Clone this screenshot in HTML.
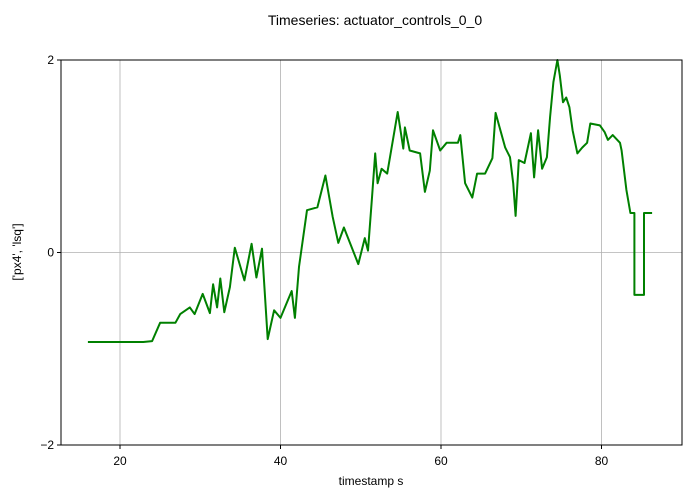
<!DOCTYPE html>
<html><head><meta charset="utf-8"><style>
body{margin:0;background:#fff;}
svg text{font-family:"Liberation Sans","DejaVu Sans",sans-serif;fill:#000;}
</style></head><body>
<svg width="689" height="498">
<text x="375" y="25" font-size="14" text-anchor="middle">Timeseries: actuator_controls_0_0</text>
<g id="grid"></g>
<g id="series"></g>
<rect x="61" y="60" width="621" height="385" fill="none" stroke="#000" stroke-width="1"/>
<g id="ticks"></g>
<text x="371" y="485" font-size="12" text-anchor="middle">timestamp s</text>
<text transform="translate(21,252) rotate(-90)" font-size="12" text-anchor="middle">['px4', 'lsq']</text>
</svg>
<script>
const xTicks=[20,40,60,80];
const yTicks=[-2,0,2];
const times=[16,22.9,24,25,26.9,27.5,28.7,29.3,30.3,31.2,31.6,32.1,32.5,33,33.7,34.3,35.5,36.4,37,37.7,38.4,39.2,40,41.4,41.8,42.3,43.3,44.6,45.6,46.5,47.2,47.9,48.7,49.7,50.5,50.9,51.4,51.8,52.1,52.6,53.3,54.6,55.3,55.5,56.1,57.4,58,58.6,59,59.9,60.7,62.1,62.4,63,63.9,64.5,65.5,66.4,66.8,67.4,68,68.6,69,69.3,69.7,70.4,71.2,71.6,72.1,72.6,73.2,73.6,74,74.5,74.8,75.2,75.6,76,76.4,77,77.6,78.2,78.6,79.8,80.4,80.8,81.4,82.3,82.5,83.1,83.6,84.1,84.1,85.3,85.3,86.3];
const values=[-0.93,-0.93,-0.92,-0.73,-0.73,-0.64,-0.57,-0.64,-0.43,-0.63,-0.33,-0.57,-0.27,-0.62,-0.36,0.05,-0.29,0.09,-0.26,0.04,-0.9,-0.6,-0.68,-0.4,-0.68,-0.15,0.44,0.47,0.8,0.37,0.1,0.26,0.09,-0.12,0.15,0.02,0.57,1.03,0.72,0.87,0.82,1.46,1.08,1.3,1.06,1.03,0.63,0.85,1.27,1.06,1.14,1.14,1.22,0.72,0.57,0.82,0.82,0.98,1.45,1.27,1.09,0.99,0.72,0.38,0.96,0.93,1.24,0.78,1.27,0.87,0.99,1.41,1.77,2.0,1.84,1.56,1.61,1.51,1.27,1.03,1.09,1.14,1.34,1.32,1.25,1.17,1.22,1.14,1.06,0.65,0.41,0.41,-0.44,-0.44,0.41,0.41];
const NS='http://www.w3.org/2000/svg';
const X=t=>120+(t-20)*8.025;
const Y=v=>252.5-v*96.25;
const grid=document.getElementById('grid'),ticks=document.getElementById('ticks'),ser=document.getElementById('series');
xTicks.forEach(t=>{
 const l=document.createElementNS(NS,'line');
 
 
 l.setAttribute('x1',X(t));l.setAttribute('x2',X(t));l.setAttribute('y1',60);l.setAttribute('y2',445);
 l.setAttribute('stroke','#b0b0b0');l.setAttribute('stroke-width','0.8');grid.appendChild(l);
 const k=document.createElementNS(NS,'line');
 
 
 k.setAttribute('x1',X(t));k.setAttribute('x2',X(t));k.setAttribute('y1',445);k.setAttribute('y2',449);k.setAttribute('stroke','#000');ticks.appendChild(k);
 const tx=document.createElementNS(NS,'text');
 
 
 tx.setAttribute('x',X(t));tx.setAttribute('y',465);tx.setAttribute('font-size','12');tx.setAttribute('text-anchor','middle');tx.textContent=t;ticks.appendChild(tx);
});
yTicks.forEach(v=>{
 if(v===0){const l=document.createElementNS(NS,'line');
 
 
 l.setAttribute('x1',61);l.setAttribute('x2',682);l.setAttribute('y1',Y(v));l.setAttribute('y2',Y(v));
 l.setAttribute('stroke','#b0b0b0');l.setAttribute('stroke-width','0.8');grid.appendChild(l);}
 const k=document.createElementNS(NS,'line');
 
 
 k.setAttribute('x1',57);k.setAttribute('x2',61);k.setAttribute('y1',Y(v));k.setAttribute('y2',Y(v));k.setAttribute('stroke','#000');ticks.appendChild(k);
 const tx=document.createElementNS(NS,'text');
 
 
 tx.setAttribute('x',54);tx.setAttribute('y',Y(v)+4);tx.setAttribute('font-size','12');tx.setAttribute('text-anchor','end');tx.textContent=v<0?'\u2212'+(-v):v;ticks.appendChild(tx);
});
const p=document.createElementNS(NS,'polyline');


p.setAttribute('points',times.map((t,i)=>X(t).toFixed(1)+','+Y(values[i]).toFixed(1)).join(' '));
p.setAttribute('fill','none');p.setAttribute('stroke','#008000');p.setAttribute('stroke-width','2');p.setAttribute('stroke-linejoin','round');
ser.appendChild(p);
</script>
</body></html>
